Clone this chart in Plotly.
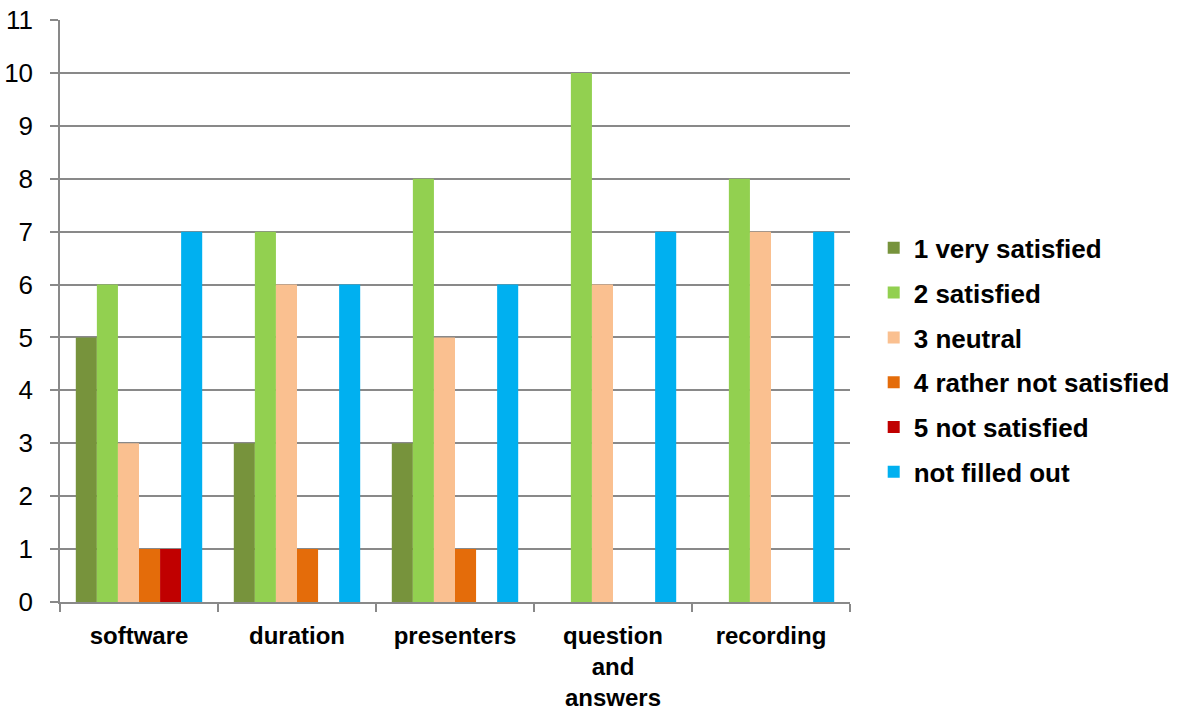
import plotly.graph_objects as go

categories = ["software", "duration", "presenters", "question<br>and<br>answers", "recording"]

series_names = [
    "1 very satisfied",
    "2 satisfied",
    "3 neutral",
    "4 rather not satisfied",
    "5 not satisfied",
    "not filled out",
]

very_satisfied = [5, 3, 3, 0, 0]
satisfied = [6, 7, 8, 10, 8]
neutral = [3, 6, 5, 6, 7]
rather_not_satisfied = [1, 1, 1, 0, 0]
not_satisfied = [1, 0, 0, 0, 0]
not_filled_out = [7, 6, 6, 7, 7]

y_ticks = list(range(0, 12))

series_values = [very_satisfied, satisfied, neutral,
                 rather_not_satisfied, not_satisfied, not_filled_out]
colors = ["#77933C", "#92D050", "#FAC090", "#E46C0A", "#C00000", "#00B0F0"]

fig = go.Figure()
for i, (name, vals, col) in enumerate(zip(series_names, series_values, colors)):
    fig.add_trace(go.Bar(
        x=categories, y=vals, name=name,
        marker=dict(color=col, line=dict(width=0)),
        legendgroup=f"g{i}",
    ))

font_family = "Liberation Sans, Arial, sans-serif"
grid = "#898989"

fig.update_layout(
    width=1180, height=710,
    margin=dict(l=60, r=330, t=20, b=108, autoexpand=False),
    paper_bgcolor="white", plot_bgcolor="white",
    barmode="group", bargap=0.2, bargroupgap=0,
    font=dict(family=font_family, size=26, color="black"),
    showlegend=True,
    legend=dict(
        x=1.03, xanchor="left", y=0.416, yanchor="middle",
        font=dict(family=font_family, size=26, color="black", weight="bold"),
        tracegroupgap=8, itemwidth=30,
        bgcolor="rgba(0,0,0,0)",
    ),
)

fig.update_xaxes(
    type="category", automargin=False,
    showline=True, linecolor=grid, linewidth=1.5,
    ticks="outside", tickson="boundaries", ticklen=8, tickcolor=grid, tickwidth=1.5,
    tickfont=dict(family=font_family, size=24, color="black", weight="bold"),
    showgrid=False,
    ticklabelstandoff=11,
)
fig.update_yaxes(
    range=[0, 11], tickvals=y_ticks, automargin=False,
    showline=True, linecolor=grid, linewidth=1.5,
    ticks="outside", ticklen=8, tickcolor=grid, tickwidth=1.5,
    showgrid=True, gridcolor=grid, gridwidth=1.5,
    zeroline=False,
    tickfont=dict(family=font_family, size=26, color="black"),
    ticklabelstandoff=12,
)

fig.write_html("out.html")
